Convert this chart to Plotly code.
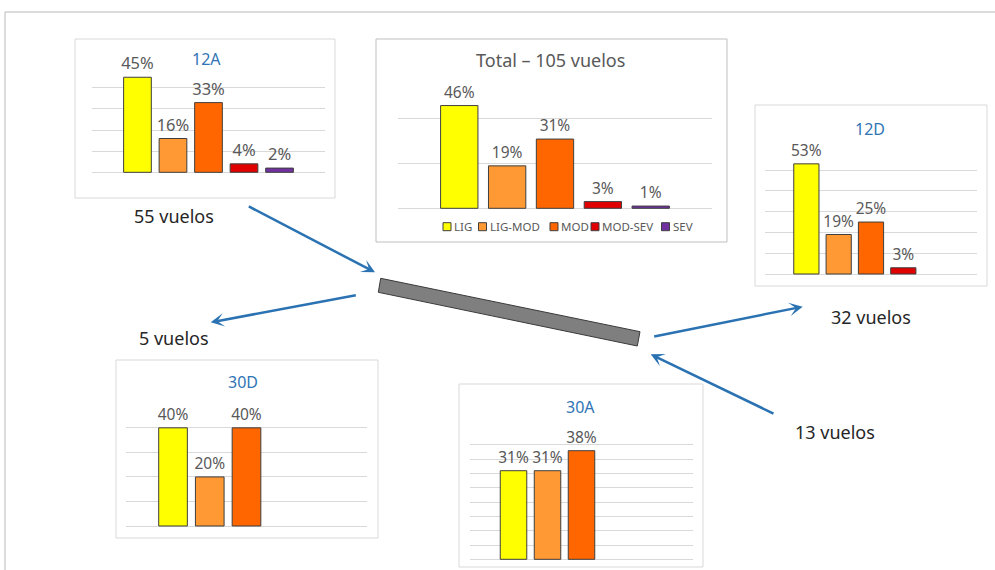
import plotly.graph_objects as go

W, H = 995, 570

# Turbulence intensity categories and per-runway percentages
categorias = ["LIG", "LIG-MOD", "MOD", "MOD-SEV", "SEV"]
pct_total = [46, 19, 31, 3, 1]
pct_12a = [45, 16, 33, 4, 2]
pct_12d = [53, 19, 25, 3]
pct_30d = [40, 20, 40]
pct_30a = [31, 31, 38]

# Number of flights per runway
vuelos_total = 105
vuelos_12a = 55
vuelos_12d = 32
vuelos_30d = 5
vuelos_30a = 13

colores = {
    "LIG": "#FFFF00",
    "LIG-MOD": "#FF9933",
    "MOD": "#FF6600",
    "MOD-SEV": "#E00000",
    "SEV": "#7030A0",
}

AZUL = "#2F75B5"
GRIS_TXT = "#595959"
GRID = "#D9D9D9"
FUENTE = "Noto Sans"


def fx(px):
    return px / W


def fy(py):
    return 1 - py / H


# Layout of every small chart, in pixels of the page
paneles = [
    dict(titulo="12A", vals=pct_12a, gx=(92, 325), base=172.3, top_px=66.7, top=50, dtick=10,
         caja=(75, 39, 335, 198), tpos=(206, 59), tcolor=AZUL, tsize=16, lsize=16.5, borde=GRID),
    dict(titulo=f"Total \u2013 {vuelos_total} vuelos", vals=pct_total, gx=(398, 712), base=208.3,
         top_px=74.3, top=60, dtick=20, caja=(376, 39, 727, 242), tpos=(550, 60), tcolor=GRIS_TXT,
         tsize=18, lsize=15.5, borde="#BFBFBF"),
    dict(titulo="12D", vals=pct_12d, gx=(765, 977), base=274, top_px=149.3, top=60, dtick=10,
         caja=(755, 105, 987, 286), tpos=(870, 129), tcolor=AZUL, tsize=16, lsize=15.5, borde=GRID),
    dict(titulo="30D", vals=pct_30d, gx=(126, 367), base=526, top_px=403.3, top=50, dtick=10,
         caja=(116, 360, 378, 538), tpos=(243, 382), tcolor=AZUL, tsize=16, lsize=15.5, borde=GRID),
    dict(titulo="30A", vals=pct_30a, gx=(470, 693), base=559.3, top_px=430.7, top=45, dtick=5,
         caja=(459, 384, 703, 567), tpos=(580, 407), tcolor=AZUL, tsize=16, lsize=15.5, borde=GRID),
]

XR = [-1.28, 5.28]

fig = go.Figure()
shapes = []
annotations = []
layout_axes = {}

# Outer frame (top and left edges)
shapes.append(dict(type="line", xref="paper", yref="paper", x0=fx(5), x1=fx(995), y0=fy(12), y1=fy(12),
                   line=dict(color="#D0D0D0", width=1.5)))
shapes.append(dict(type="line", xref="paper", yref="paper", x0=fx(5), x1=fx(5), y0=fy(12), y1=fy(570),
                   line=dict(color="#D0D0D0", width=1.5)))

for i, p in enumerate(paneles):
    s = "" if i == 0 else str(i + 1)
    cats = categorias[:len(p["vals"])]
    ppu = (p["base"] - p["top_px"]) / p["top"]
    e = 1.0 / ppu

    fig.add_trace(go.Bar(
        x=cats, y=p["vals"],
        marker=dict(color=[colores[c] for c in cats], line=dict(color="#3F3F3F", width=1)),
        text=[f"{v}%" for v in p["vals"]],
        textposition="outside",
        textfont=dict(size=p["lsize"], color=GRIS_TXT, family=FUENTE),
        cliponaxis=False, constraintext="none",
        xaxis="x" + s, yaxis="y" + s, showlegend=False,
        hovertemplate="%{x}: %{y}%<extra></extra>",
    ))

    layout_axes["xaxis" + s] = dict(
        domain=[fx(p["gx"][0]), fx(p["gx"][1])], range=XR, type="category",
        categoryorder="array", categoryarray=categorias,
        showticklabels=False, showgrid=False, zeroline=False, showline=False, ticks="",
        anchor="y" + s, fixedrange=True,
    )
    layout_axes["yaxis" + s] = dict(
        domain=[fy(p["base"] + 1), fy(p["top_px"] - 1)], range=[-e, p["top"] + e],
        tickvals=list(range(0, p["top"] + 1, p["dtick"])),
        showticklabels=False, showgrid=True, gridcolor=GRID, gridwidth=1,
        zeroline=True, zerolinecolor=GRID, zerolinewidth=1, showline=False, ticks="",
        anchor="x" + s, fixedrange=True,
    )

    x0, y0, x1, y1 = p["caja"]
    shapes.append(dict(type="rect", xref="paper", yref="paper", x0=fx(x0), x1=fx(x1), y0=fy(y1), y1=fy(y0),
                       line=dict(color=p["borde"], width=1), layer="below"))
    annotations.append(dict(text=p["titulo"], xref="paper", yref="paper", x=fx(p["tpos"][0]),
                            y=fy(p["tpos"][1]), xanchor="center", yanchor="middle", showarrow=False,
                            font=dict(size=p["tsize"], color=p["tcolor"], family=FUENTE)))

# Legend of the total chart
leyenda_x = [447, 482.5, 554, 595, 665.5]
leyenda_y = 226.7
for c, lx in zip(categorias, leyenda_x):
    shapes.append(dict(type="rect", xref="paper", yref="paper", x0=fx(lx - 4), x1=fx(lx + 4),
                       y0=fy(leyenda_y + 4), y1=fy(leyenda_y - 4),
                       fillcolor=colores[c], line=dict(color="#3F3F3F", width=1)))
    annotations.append(dict(text=c, xref="paper", yref="paper", x=fx(lx + 5), y=fy(leyenda_y),
                            xanchor="left", yanchor="middle", showarrow=False,
                            font=dict(size=11.5, color=GRIS_TXT, family=FUENTE)))

# Runway drawn as a tilted grey bar
pista = [(380.7, 278.3), (640, 331.7), (637.3, 346), (378.3, 292.3)]
path = "M " + " L ".join(f"{fx(a):.5f},{fy(b):.5f}" for a, b in pista) + " Z"
shapes.append(dict(type="path", xref="paper", yref="paper", path=path,
                   fillcolor="#7F7F7F", line=dict(color="#3A3A3A", width=1)))

# Flow arrows (tail -> head)
flechas = [
    ((247.3, 205.7), (375, 272.3)),
    ((357.3, 295), (210.7, 322.3)),
    ((652.7, 336.7), (802.7, 306.7)),
    ((775, 414.3), (650.7, 354.3)),
]
for (tx, ty), (hx, hy) in flechas:
    annotations.append(dict(text="", xref="paper", yref="paper", x=fx(hx), y=fy(hy),
                            ax=tx - hx, ay=ty - hy, axref="pixel", ayref="pixel",
                            showarrow=True, arrowhead=3, arrowsize=0.9, arrowwidth=2.5,
                            arrowcolor="#2A72B2", standoff=0, startstandoff=0))

# Flight count labels
conteos = [
    (vuelos_12a, 174, 216.5),
    (vuelos_30d, 174, 338),
    (vuelos_12d, 870.5, 317),
    (vuelos_30a, 835, 432),
]
for n, cx, cy in conteos:
    annotations.append(dict(text=f"{n} vuelos", xref="paper", yref="paper", x=fx(cx), y=fy(cy),
                            xanchor="center", yanchor="middle", showarrow=False,
                            font=dict(size=18, color="#262626", family=FUENTE)))

fig.update_layout(
    width=W, height=H,
    margin=dict(l=0, r=0, t=0, b=0),
    paper_bgcolor="white", plot_bgcolor="rgba(0,0,0,0)",
    bargap=0.22,
    font=dict(family=FUENTE, color=GRIS_TXT),
    shapes=shapes, annotations=annotations,
    showlegend=False,
    **layout_axes,
)

fig.write_html("out.html", config={"displayModeBar": False})
